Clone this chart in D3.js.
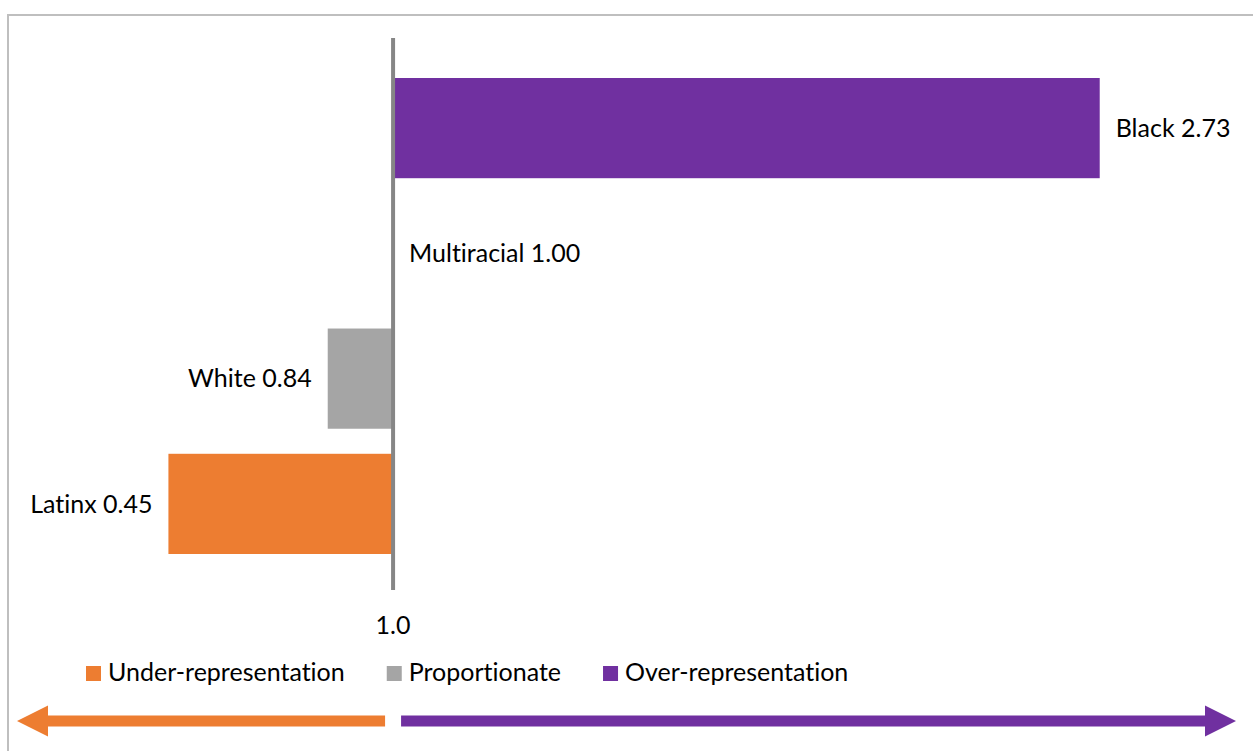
<!DOCTYPE html>
<html><head><meta charset="utf-8">
<script src="https://cdn.jsdelivr.net/npm/d3@7"></script>
<style>
body{margin:0;background:#fff;}
svg{display:block;font-family:Lato,'Open Sans',sans-serif;font-variant-ligatures:none;font-feature-settings:"liga" 0,"clig" 0;}
</style>
</head><body>
<svg id="c" width="1253" height="751"></svg>
<script>
// ---- data ----
const categories = ["Black", "Multiracial", "White", "Latinx"];
const values = [2.73, 1.00, 0.84, 0.45];
const categoryGroups = ["Over-representation", "Proportionate", "Proportionate", "Under-representation"];
const legendGroups = ["Under-representation", "Proportionate", "Over-representation"];
const groupColors = ["#ED7D31", "#A5A5A5", "#7030A0"];
const baseline = 1.0;
const tickLabels = ["1.0"];

// ---- layout ----
const W = 1253, H = 751;
const svg = d3.select("#c");
const fontSize = 25;

const color = d3.scaleOrdinal().domain(legendGroups).range(groupColors);
const x = d3.scaleLinear().domain([0.4, 3.0]).range([148, 1210]);
const y = d3.scaleBand().domain(categories).range([78, 554]).paddingInner(0.2).paddingOuter(0);

const data = categories.map((c, i) => ({cat: c, v: values[i], g: categoryGroups[i]}));

// frame
svg.append("path")
  .attr("d", `M8,${H + 5} L8,15 L${W + 5},15`)
  .attr("fill", "none").attr("stroke", "#BFBFBF").attr("stroke-width", 2);

// bars
svg.append("g").selectAll("rect").data(data).join("rect")
  .attr("x", d => Math.min(x(d.v), x(baseline)))
  .attr("width", d => Math.abs(x(d.v) - x(baseline)))
  .attr("y", d => y(d.cat))
  .attr("height", y.bandwidth())
  .attr("fill", d => color(d.g));

// vertical axis line at 1.0
svg.append("line")
  .attr("x1", x(baseline)).attr("x2", x(baseline))
  .attr("y1", 38).attr("y2", 590)
  .attr("stroke", "#868686").attr("stroke-width", 4);

// data labels
const fmt = d3.format(".2f");
svg.append("g").selectAll("text").data(data).join("text")
  .attr("x", d => d.v >= baseline ? x(d.v) + 16 : x(d.v) - 16)
  .attr("y", d => y(d.cat) + y.bandwidth() / 2)
  .attr("dy", "0.35em")
  .attr("text-anchor", d => d.v >= baseline ? "start" : "end")
  .attr("font-size", fontSize).attr("fill", "#000")
  .text(d => `${d.cat} ${fmt(d.v)}`);

// tick label
svg.append("g").selectAll("text").data(tickLabels).join("text")
  .attr("x", d => x(+d))
  .attr("y", 634)
  .attr("text-anchor", "middle")
  .attr("font-size", fontSize).attr("fill", "#000")
  .text(d => d);

// legend
const lg = svg.append("g");
let lx = 86;
legendGroups.forEach(g => {
  lg.append("rect").attr("x", lx).attr("y", 666).attr("width", 15).attr("height", 15).attr("fill", color(g));
  const t = lg.append("text").attr("x", lx + 22).attr("y", 681)
    .attr("font-size", fontSize).attr("fill", "#000").text(g);
  lx += 22 + t.node().getComputedTextLength() + 42;
});

// direction arrows
const ay = 721, shaftH = 11, headH = 31, headL = 31;
const under = x(baseline) - 8, over = x(baseline) + 8;
const leftTip = 17, rightTip = 1236;
svg.append("path")
  .attr("d", `M${leftTip},${ay} L${leftTip + headL},${ay - headH / 2} L${leftTip + headL},${ay - shaftH / 2}
    L${under},${ay - shaftH / 2} L${under},${ay + shaftH / 2} L${leftTip + headL},${ay + shaftH / 2}
    L${leftTip + headL},${ay + headH / 2} Z`)
  .attr("fill", color("Under-representation"));
svg.append("path")
  .attr("d", `M${rightTip},${ay} L${rightTip - headL},${ay - headH / 2} L${rightTip - headL},${ay - shaftH / 2}
    L${over},${ay - shaftH / 2} L${over},${ay + shaftH / 2} L${rightTip - headL},${ay + shaftH / 2}
    L${rightTip - headL},${ay + headH / 2} Z`)
  .attr("fill", color("Over-representation"));
</script>
</body></html>
